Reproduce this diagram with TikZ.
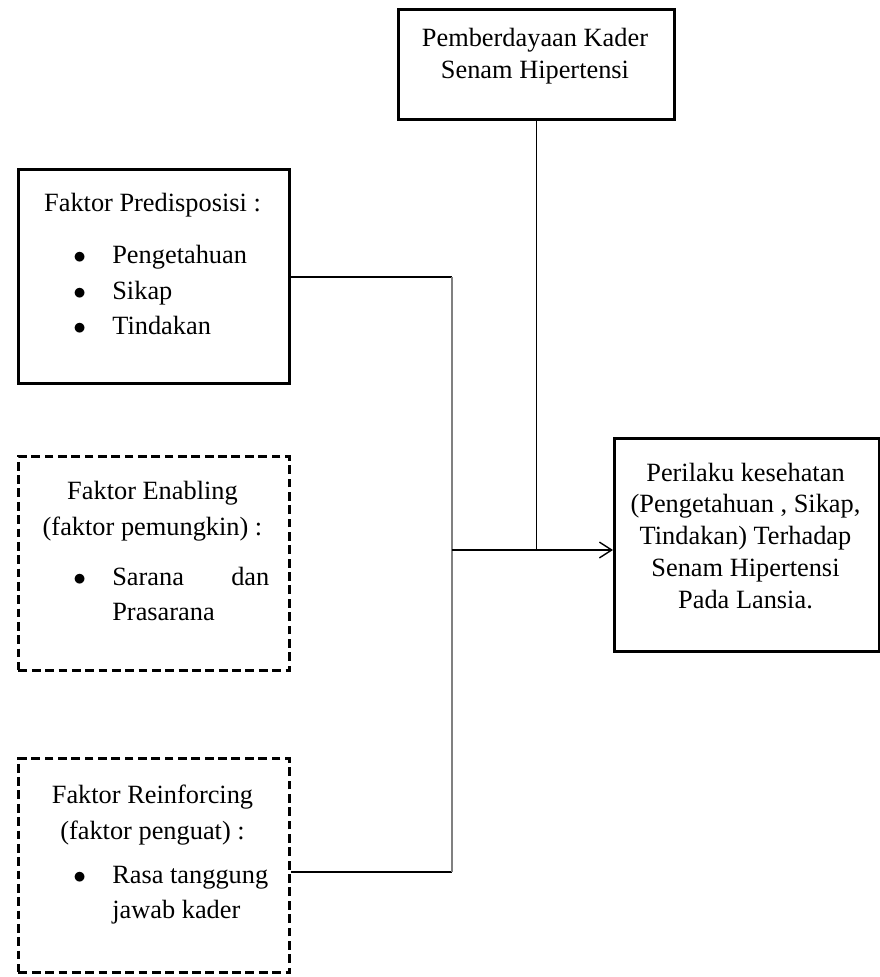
\documentclass[tikz,border=0pt]{standalone}
\usepackage{fontspec}
\setmainfont{Liberation Serif}
\usetikzlibrary{positioning,arrows.meta}

\newcommand{\butir}{\makebox[0.78cm][l]{$\bullet$}}

\tikzset{
  kotak/.style={draw, line width=1.7pt, minimum width=5.42cm, minimum height=4.28cm, anchor=north west},
  kotakputus/.style={kotak, dash pattern=on 5pt off 2.6pt},
  judul/.style={align=center, inner sep=0pt, font=\fontsize{15}{20.5}\selectfont},
  daftar/.style={align=left, inner sep=0pt, anchor=west, font=\fontsize{15}{20}\selectfont},
  garis/.style={line width=0.8pt},
  abu/.style={line width=1.7pt, draw=gray},
}

\begin{document}
\begin{tikzpicture}[x=0.02cm, y=-0.02cm]
\useasboundingbox (0,0) rectangle (879,977);
% kotak
\node[kotak] (pre) at (17,168) {};
\node[kotakputus] (ena) at (17,455) {};
\node[kotakputus] (rei) at (17,757) {};
\node[kotak, minimum width=5.52cm, minimum height=2.2cm] (kader) at (397,8) {};
\node[kotak, minimum width=5.3cm, minimum height=4.26cm] (hasil) at (613,437) {};
% isi kotak
\node[judul] (jpre) at (152.5,205) {Faktor Predisposisi :};
\node[daftar] (dpre) at (73,290) {\butir Pengetahuan\\ \butir Sikap\\ \butir Tindakan};
\node[judul] (jena) at (152.5,511) {Faktor Enabling\\ (faktor pemungkin) :};
\node[daftar] (dena) at (73,594) {\butir\makebox[3.14cm][s]{Sarana\hfill dan}\\ \hspace*{0.78cm}Prasarana};
\node[judul] (jrei) at (152.5,815) {Faktor Reinforcing\\ (faktor penguat) :};
\node[daftar] (drei) at (73,895) {\butir Rasa tanggung\\ \hspace*{0.78cm}jawab kader};
\node[judul, font=\fontsize{15}{18.2}\selectfont] (jkader) at (535,56) {Pemberdayaan Kader\\ Senam Hipertensi};
\node[judul, font=\fontsize{15}{18.2}\selectfont] (jhasil) at (745.5,536) {Perilaku kesehatan\\ (Pengetahuan , Sikap,\\ Tindakan) Terhadap\\ Senam Hipertensi\\ Pada Lansia.};
% garis
\coordinate (atas) at (452,277);
\coordinate (bawah) at (452,872);
\coordinate (temu) at (452,550);
\draw[garis] (pre.east |- atas) -- (atas);
\draw[garis] (rei.east |- bawah) -- (bawah);
\draw[abu] (atas) -- (bawah);
\draw[garis] (kader.south) -- (kader.south |- temu);
\draw[garis, -{Straight Barb[length=7pt, width=9pt]}] (temu) -- (hasil.west |- temu);
\end{tikzpicture}
\end{document}
